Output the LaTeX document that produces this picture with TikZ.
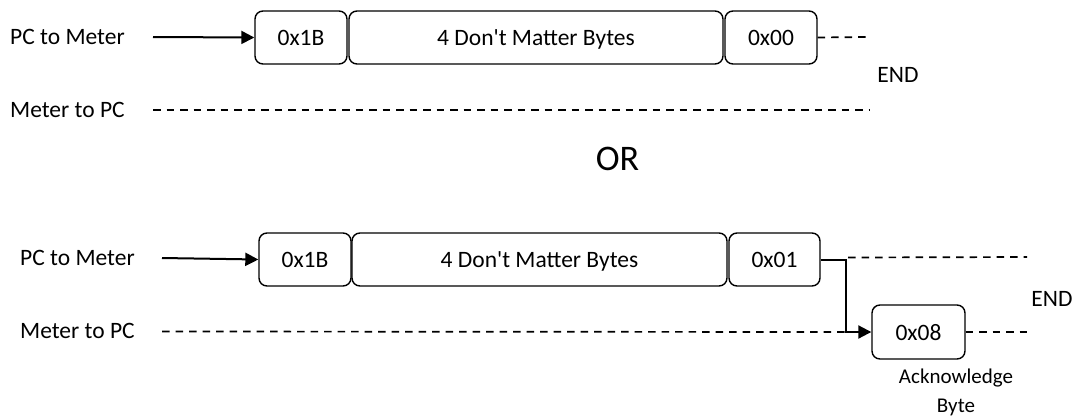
\documentclass[tikz,border=0pt]{standalone}
\usepackage{fontspec}
\setmainfont{Carlito}
\usetikzlibrary{arrows.meta}
\begin{document}
\begin{tikzpicture}[x=1pt,y=-1pt,
  bytebox/.style={draw, line width=1.4pt, rounded corners=8pt, minimum height=53pt, inner sep=0pt, text depth=0pt, font=\fontsize{23.5}{28}\selectfont},
  lbl/.style={inner sep=0pt, anchor=west, font=\fontsize{23.5}{28}\selectfont},
  solidarrow/.style={line width=2pt, -{Triangle[length=13pt,width=13pt]}},
  dashline/.style={line width=1.7pt, dash pattern=on 7.5pt off 6pt}]
\useasboundingbox (0,0) rectangle (1076,418);
% ---- top ----
\node[lbl] (pc1) at (10,37) {PC to Meter};
\node[lbl] (mp1) at (10,110) {Meter to PC};
\node[bytebox, minimum width=92pt] (a1) at (301,37.5) {0x1B};
\node[bytebox, minimum width=374pt] (a2) at (536,37.5) {4 Don\textquotesingle t Matter Bytes};
\node[bytebox, minimum width=92pt] (a3) at (771,37.5) {0x00};
\node[lbl, anchor=center] (end1) at (898,74.5) {END};
\coordinate (s1) at (153,37);
\coordinate (e1) at (866,37);
\coordinate (s2) at (153,110);
\coordinate (e2) at (870,110);
\draw[solidarrow] (s1) -- (a1.west);
\draw[dashline] (a3.east) -- (e1);
\draw[dashline] (s2) -- (e2);
% ---- OR ----
\node[inner sep=0pt, font=\fontsize{36}{42}\selectfont] (or) at (617.5,159) {OR};
% ---- bottom ----
\node[lbl] (pc2) at (20,258) {PC to Meter};
\node[lbl] (mp2) at (20,331) {Meter to PC};
\node[bytebox, minimum width=92pt] (b1) at (305,259.5) {0x1B};
\node[bytebox, minimum width=375pt] (b2) at (539.5,259.5) {4 Don\textquotesingle t Matter Bytes};
\node[bytebox, minimum width=91pt] (b3) at (774.5,259.5) {0x01};
\node[bytebox, minimum width=93pt, minimum height=54pt] (c1) at (918.5,332) {0x08};
\node[lbl, anchor=center] (end2) at (1052,299) {END};
\node[inner sep=0pt, align=center, font=\fontsize{21}{29}\selectfont] (ack) at (956,392) {Acknowledge\\Byte};
\coordinate (s3) at (162,258);
\coordinate (k) at (846,259.5);
\coordinate (e3) at (1027,257);
\coordinate (s4) at (162,331.5);
\coordinate (e4) at (1027,332);
\draw[solidarrow] (s3) -- (b1.west);
\draw[line width=2pt, -{Triangle[length=13pt,width=13pt]}] (b3.east) -- (k) |- (c1.west);
\draw[dashline] (k) ++(2,-2) -- (e3);
\draw[dashline] (s4) -- (k |- c1.west);
\draw[dashline] (c1.east) -- (e4);
\end{tikzpicture}
\end{document}
